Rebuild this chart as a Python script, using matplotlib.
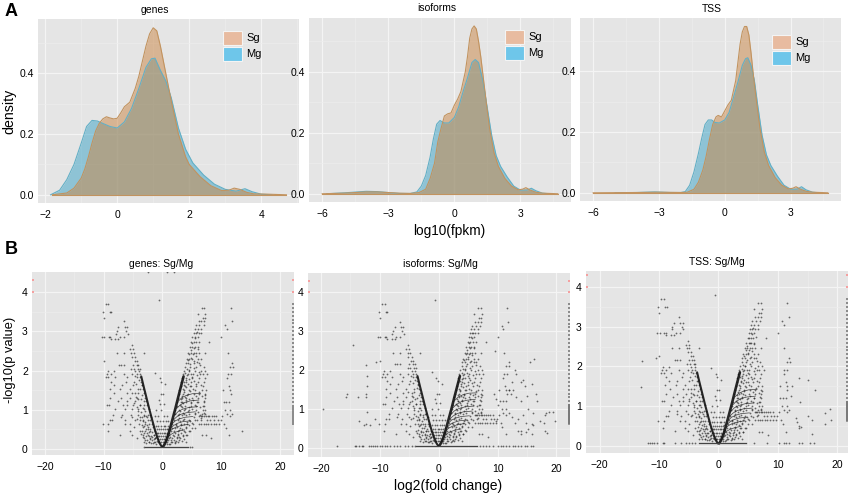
import matplotlib
matplotlib.use("Agg")
import matplotlib.pyplot as plt
from matplotlib.patches import Rectangle

plt.rcParams['font.family'] = ['Liberation Sans', 'DejaVu Sans']

W, H = 851, 496

# density curves
genes_sg_x = [-1.8,-1.4,-1.2,-1.0,-0.9,-0.8,-0.7,-0.6,-0.5,-0.4,-0.3,-0.2,-0.1,0,0.1,0.2,0.35,0.5,0.6,0.7,0.8,0.9,1.0,1.1,1.2,1.3,1.4,1.5,1.6,1.7,1.9,2.0,2.3,2.6,2.9,3.1,3.25,3.4,3.6,3.8,4.2,4.7]
genes_sg_y = [0,0.006,0.022,0.055,0.085,0.125,0.17,0.21,0.235,0.25,0.257,0.253,0.25,0.252,0.27,0.29,0.305,0.35,0.39,0.44,0.49,0.53,0.55,0.54,0.49,0.43,0.37,0.31,0.255,0.2,0.125,0.10,0.06,0.03,0.014,0.015,0.022,0.018,0.008,0.003,0.002,0]
genes_mg_x = [-1.85,-1.6,-1.4,-1.2,-1.0,-0.85,-0.7,-0.55,-0.4,-0.2,0,0.2,0.4,0.6,0.8,0.95,1.05,1.2,1.35,1.5,1.6,1.7,1.9,2.1,2.4,2.7,3.0,3.3,3.55,3.75,4.0,4.3]
genes_mg_y = [0,0.015,0.05,0.1,0.17,0.225,0.245,0.243,0.235,0.225,0.22,0.24,0.285,0.35,0.42,0.448,0.45,0.41,0.375,0.32,0.27,0.22,0.15,0.105,0.065,0.035,0.018,0.012,0.02,0.01,0.002,0]
iso_sg_x = [-6,-5,-4,-3.5,-3,-2.5,-2,-1.6,-1.3,-1.1,-0.9,-0.75,-0.6,-0.45,-0.3,-0.15,0,0.15,0.3,0.5,0.6,0.7,0.8,0.9,1.0,1.1,1.2,1.3,1.45,1.6,1.8,2.0,2.3,2.6,2.9,3.1,3.25,3.45,3.7,4.0,4.7]
iso_sg_y = [0,0.002,0.006,0.006,0.004,0.002,0.001,0.004,0.015,0.05,0.1,0.17,0.215,0.255,0.262,0.265,0.29,0.31,0.335,0.4,0.45,0.51,0.54,0.55,0.54,0.5,0.45,0.39,0.3,0.215,0.135,0.09,0.05,0.025,0.013,0.015,0.02,0.012,0.005,0.002,0]
iso_mg_x = [-5.8,-5,-4,-3.5,-3,-2.5,-2,-1.7,-1.5,-1.3,-1.1,-0.95,-0.8,-0.65,-0.45,-0.25,0,0.2,0.4,0.6,0.8,0.95,1.1,1.3,1.5,1.7,1.9,2.1,2.4,2.7,3.0,3.3,3.5,3.7,4.0,4.3]
iso_mg_y = [0,0.003,0.008,0.007,0.004,0.001,0.001,0.006,0.025,0.06,0.12,0.18,0.228,0.24,0.232,0.232,0.25,0.285,0.335,0.38,0.43,0.44,0.43,0.37,0.28,0.19,0.125,0.09,0.055,0.025,0.012,0.012,0.018,0.01,0.002,0]
tss_sg_x = [-6,-4,-3,-2,-1.7,-1.4,-1.2,-1.0,-0.85,-0.7,-0.55,-0.4,-0.3,-0.15,0,0.15,0.3,0.5,0.6,0.7,0.8,0.9,1.0,1.1,1.2,1.3,1.45,1.6,1.8,2.0,2.3,2.6,2.9,3.1,3.25,3.45,3.7,4.0,4.7]
tss_sg_y = [0,0.001,0.002,0.001,0.002,0.012,0.035,0.075,0.12,0.175,0.225,0.25,0.255,0.25,0.27,0.29,0.305,0.37,0.43,0.49,0.53,0.548,0.548,0.52,0.46,0.39,0.3,0.215,0.135,0.09,0.05,0.025,0.013,0.015,0.02,0.012,0.005,0.002,0]
tss_mg_x = [-5,-4,-3.2,-2.5,-2,-1.8,-1.6,-1.4,-1.2,-1.05,-0.9,-0.75,-0.6,-0.45,-0.25,0,0.2,0.4,0.6,0.8,0.95,1.05,1.2,1.35,1.5,1.7,1.9,2.1,2.4,2.7,3.0,3.3,3.5,3.7,4.0,4.3]
tss_mg_y = [0,0.001,0.003,0.001,0.001,0.004,0.025,0.07,0.13,0.18,0.225,0.24,0.24,0.232,0.23,0.24,0.265,0.315,0.365,0.42,0.442,0.445,0.42,0.37,0.29,0.19,0.125,0.09,0.055,0.025,0.012,0.012,0.02,0.01,0.002,0]

# volcano points common to the three panels, as (y level, x values)
left_rows = [
    (3.7,[-9.6,-9.2]),(3.5,[-10.1,-9.0,-8.7]),(3.35,[-10]),(3.25,[-6.6]),(3.1,[-7.5,-6.4,-6.0]),
    (3.0,[-7.8,-6.2]),(2.93,[-5.9,-7.9]),(2.85,[-10.3,-9.9,-9.1,-8.9,-7.2,-6.5]),(2.8,[-8.8,-8,-7.5]),
    (2.65,[-5.2]),(2.55,[-5.5,-5]),(2.45,[-7.8,-6.6,-5.3,-4.9,-3.2]),(2.35,[-5.2,-4.6]),(2.25,[-10,-4.7,-4.3]),
    (2.15,[-7.4,-7,-6.5,-5.0,-4.4,-4.1]),(2.05,[-5.3,-4.8,-4.2,-3.9]),(1.98,[-9.3,-8.3,-4.6,-4.0]),
    (1.9,[-9.5,-8.8,-6.6,-5.2,-4.4,-3.9]),(1.83,[-9.6,-9.2,-8.0,-6,-4.3,-3.8]),
    (1.72,[-8.8,-6.2,-4.8,-3.7]),(1.64,[-8.3,-6.9,-5.0,-3.5]),
    (1.53,[-9,-7.2,-5.6,-4.2,-3.3]),(1.42,[-8.2,-6,-4.6,-3.1]),
    (1.31,[-8.9,-7,-5.5,-4.3,-3]),(1.22,[-7.6,-6,-4.6,-3.2,-2.8]),
    (1.13,[-9.5,-9.1,-6.7,-6,-5,-3.8,-2.7]),(1.02,[-8,-6.4,-5.2,-4.2,-3.1,-2.3]),
    (0.88,[-8.4,-6.9,-5.4,-4.2,-3.2,-2.4,-2.1]),(0.81,[-7,-5.1,-3.5,-2.6,-1.9]),
    (0.74,[-8.9,-8.5,-6.3,-4.7,-3.3,-2.1]),(0.63,[-10.1,-9.2,-6.4,-5.6,-4,-3,-1.8]),
    (0.56,[-4.9,-3.3,-2.4,-1.6]),(0.45,[-9.3,-5.6,-3.9,-3,-2.1,-1.3]),
    (0.37,[-7.3,-5.1,-3.3,-2.4,-1.5]),(0.28,[-4.3,-3.1,-2.1,-1.3]),(0.18,[-3.2,-2.2,-1.4,-0.8]),
]
right_rows = [
    (3.6,[6.7,7.1,11.6]),(3.45,[6,7.3]),(3.35,[6.9,7.2]),(3.25,[6.2,6.6,7.1,11.8]),(3.15,[5.7,6.3,7,10.7]),(3.05,[5.5,6,6.6,11]),
    (2.95,[5.3,5.7,6.2,6.6]),(2.85,[5.1,5.5,6,10]),(2.72,[4.9,5.4,5.8,8]),(2.6,[4.7,5.1,5.5,6]),(2.45,[4.4,4.8,5.3,5.7,6.2,7.2,11.1]),
    (2.3,[4.2,4.6,5,6,6.6]),(2.2,[4,4.4,5.3,6.3,11.9]),(2.1,[3.9,4.7,5.7,7,11.5,12]),
    (2.0,[3.7,4.5,5.5,6.6,7.3]),(1.9,[3.5,4.3,5.2,6.4,6.9,7.6,11.1,11.6]),(1.8,[3.3,4.1,5.1,6.2,7.2,11]),
    (1.7,[3.2,4,4.9,6,7]),(1.6,[3.1,3.8,4.7,5.8,6.9,11.3]),(1.5,[2.9,3.7,4.5,5.5,6.7,7.4,10.3,11.5]),
    (1.4,[2.8,3.5,4.3,5.3,6.2,7.2,11.6]),(1.3,[2.6,3.4,4.1,5.1,6.1,7.2]),
    (1.2,[2.5,3.2,4,4.9,5.9,7.1,10.4,10.9,11.4]),(1.1,[2.4,3.1,3.8,4.8,5.8,7]),
    (1.0,[2.2,2.9,3.7,4.6,5.7,6.9,7.3,10.7,11.5]),(0.9,[2.1,2.8,3.6,4.6,5.6,6.7,7.2,11,11.9]),
    (0.84,[6.2,6.5,6.8,7.1,7.4,7.7,8,8.4,8.7,9.2,10.2,11.5]),(0.75,[1.9,2.6,3.5,4.5,5.5,6.5,7.6,8.1,8.8,9.4,9.9]),
    (0.65,[1.7,2.3,3.2,4.2,5.2,6.2,6.6,7,7.4,7.8,8.2,8.7,9.2,9.7,10.5]),(0.55,[1.6,2.2,3,4,5,5.6,10.8]),
    (0.45,[1.4,2,2.7,3.6,4.7,13.5]),(0.36,[1.2,1.8,2.6,3.5,4.2,6.8,7.4,11.4]),(0.28,[1.1,1.7,2.5,3,8.3]),(0.18,[0.8,1.4,2.2]),
]
# between the two arms of the V
middle_rows = [
    (3.8,[-0.6]),(1.95,[-1.2]),(1.8,[-0.4]),(1.72,[-0.2]),(1.65,[0.5]),(1.4,[-0.3,0.1]),(1.25,[-0.6]),(1.15,[-0.4,0.2]),(1.0,[-1.1,-0.2]),
    (0.85,[-1.2,-0.7,0.3,0.8]),(0.72,[-0.9,-0.4,0.1,0.6,1]),(0.6,[-1.1,-0.7,-0.3,0.2,0.5,0.9]),(0.5,[-0.9,-0.6,-0.2,0.1,0.4,0.7]),
    (0.42,[-1,-0.7,-0.4,-0.1,0.2,0.5,0.8]),(0.33,[-0.8,-0.5,-0.2,0.1,0.4,0.7]),(0.25,[-0.7,-0.4,-0.1,0.2,0.5]),(0.17,[-0.5,-0.2,0.1,0.4]),
]
# scattered points off the rows, estimated where the cloud is thickest
right_fill = [(3.65,1.72),(3.9,1.93),(4.15,2.04),(4.35,2.27),(4.6,2.41),(4.85,2.52),(5.1,2.71),(5.35,2.58),(5.6,2.82),(5.85,2.97),
    (3.3,1.36),(3.45,1.53),(3.75,1.64),(3.95,1.77),(4.2,1.88),(4.45,2.02),(4.75,2.17),(4.95,2.33),(5.2,2.42),(5.45,2.24),
    (3.15,1.27),(3.35,1.21),(3.6,1.46),(3.85,1.33),(4.05,1.58),(4.3,1.66),(4.55,1.79),(4.8,1.92),(5.05,1.84),(5.3,2.07),
    (2.95,1.13),(3.05,0.97),(3.25,1.08),(3.55,1.17),(3.8,1.03),(4.0,1.24),(4.25,1.37),(4.5,1.28),(4.7,1.48),(4.9,1.61),
    (5.15,1.53),(5.4,1.74),(5.65,1.67),(5.9,1.89),(6.15,1.97),(6.4,2.14),(5.7,2.38),(6.05,2.56),(5.95,2.22),(6.3,2.73),
    (2.7,0.88),(2.85,0.79),(3.0,0.72),(3.3,0.86),(3.55,0.93),(3.75,0.77),(4.05,0.87),(4.3,0.96),(4.55,1.08),(4.8,1.17),
    (5.0,1.03),(5.25,1.26),(5.5,1.13),(5.75,1.36),(6.0,1.21),(6.3,1.46),(6.5,1.62),(6.75,1.34),(6.45,1.08),(6.85,1.11),
    (2.35,0.62),(2.55,0.57),(2.75,0.48),(3.1,0.61),(3.4,0.52),(3.7,0.63),(3.95,0.57),(4.25,0.69),(4.45,0.62),(4.75,0.72),
    (5.05,0.67),(5.35,0.82),(5.6,0.93),(5.85,0.73),(6.1,0.95),(6.35,0.86),(6.6,0.78),(7.15,0.93),(7.0,1.23),(7.3,1.37),
    (1.95,0.33),(2.15,0.41),(2.4,0.32),(2.65,0.39),(2.9,0.3),(3.2,0.41),(3.45,0.33),(3.8,0.44),(4.1,0.36),(4.45,0.46),
    (1.45,0.22),(1.65,0.17),(1.9,0.24),(2.1,0.15),(2.35,0.21),(2.6,0.17),(2.85,0.22),(3.3,0.2),(3.65,0.25),(4.0,0.17),
    (0.95,0.24),(1.25,0.14),(1.05,0.12),(0.7,0.12),(0.55,0.23),(0.85,0.38),(1.15,0.41),(1.35,0.3),(0.65,0.31),(1.0,0.52)]
left_fill = [(-3.55,1.62),(-3.75,1.54),(-3.95,1.75),(-4.2,1.43),(-4.45,1.66),(-4.7,1.86),(-3.4,1.37),(-3.65,1.28),(-3.85,1.12),(-4.1,1.27),
    (-4.35,1.08),(-4.55,1.33),(-4.9,1.18),(-5.15,1.43),(-3.15,1.13),(-3.35,1.04),(-3.6,0.94),(-3.9,0.83),(-4.15,0.98),(-4.4,0.77),
    (-2.95,0.97),(-3.1,0.84),(-3.3,0.72),(-3.55,0.62),(-3.75,0.73),(-2.75,0.85),(-2.9,0.7),(-3.15,0.59),(-3.45,0.47),(-3.7,0.38),
    (-2.5,0.75),(-2.65,0.62),(-2.85,0.52),(-3.05,0.41),(-3.35,0.31),(-2.3,0.63),(-2.45,0.51),(-2.65,0.42),(-2.85,0.33),(-3.0,0.23),
    (-2.05,0.5),(-2.2,0.43),(-2.35,0.33),(-2.55,0.24),(-2.75,0.16),(-1.85,0.43),(-1.95,0.33),(-2.1,0.25),(-2.3,0.17),(-1.7,0.32),
    (-1.75,0.22),(-1.9,0.15),(-1.5,0.25),(-1.6,0.15),(-1.3,0.19),(-1.15,0.13),(-1.45,0.37),(-1.25,0.28),(-1.05,0.32),(-0.9,0.2)]
# the two dense arms and the arcs inside the right arm
left_arm_x = [-3.6,-3.2,-2.7,-2.2,-1.7,-1.2,-0.8,-0.4,-0.1]
left_arm_y = [1.85,1.6,1.3,1.0,0.72,0.45,0.27,0.13,0.06]
right_arm_x = [0.1,0.4,0.8,1.2,1.7,2.2,2.7,3.2,3.6]
right_arm_y = [0.06,0.13,0.27,0.47,0.75,1.03,1.33,1.62,1.85]
arc_x = [[1.0,1.4,2,2.8,3.8],[1.3,1.7,2.3,3.2,4.4],[1.5,2,2.6,3.5,4.8],[1.7,2.2,2.9,3.8,5.2],[1.9,2.5,3.2,4.2,5.6],[2.1,2.7,3.5,4.5,6],[2.4,3,3.8,4.8,6.2],[2.7,3.3,4.1,5.1,6.5]]
arc_y = [[0.32,0.37,0.42,0.46,0.49],[0.46,0.51,0.56,0.6,0.63],[0.55,0.61,0.66,0.7,0.72],[0.65,0.72,0.77,0.81,0.83],[0.75,0.83,0.89,0.93,0.95],[0.87,0.96,1.02,1.06,1.08],[1.03,1.12,1.19,1.23,1.25],[1.22,1.31,1.37,1.41,1.42]]

# points only seen in one panel
genes_top_x = [-2.5,0.8,2.0]
genes_top_y = [4.5,4.5,4.5]
iso_extra_x = [-19.7,-15.6,-15.7,-14.6,-13.7,-13.5,-12.7,-12.4,-12.4,-12.4,-12.3,-12.2,-12.2,-12.2,-11.7,-10.8,-10.7,9.6,11.9,13,12.5,13.2,14,14.4,14.7,15.5,16.2,15.8,16.5,16.7,9.4,9.8,10,12,12.2,12.6,13.2,14,15,15.2,16,14.3,13.5,12.5,9.7,13,14.8,15.8,16,17.2,17.8,18.1,18.3,18.8,19.4,19.8,18.1,18.4,15.1,14.8,14,14,15.9]
iso_extra_y = [1.0,1.4,1.3,2.65,1.3,0.7,0.6,0.62,1.3,1.4,2.13,1.6,1.85,0.92,0.6,0.75,2.2,2.5,1.5,2.0,1.7,1.9,1.7,1.75,1.6,2.2,2.3,1.65,1.4,1.2,1.4,1.25,1.1,1.5,1.4,1.5,1.3,1.2,1.35,1.0,0.9,0.85,0.75,0.8,0.7,0.65,0.65,0.62,0.6,0.7,0.65,0.85,0.9,0.93,0.92,0.7,0.45,0.38,0.5,0.4,0.45,0.35,0.35]
tss_extra_x = [-12.8,-13,-10.6,13.5,15,16.3,13.7,13,13.2,13.6,13.9,15,15.8,15.7,17.9,18.8,18,19,12.4,12.2]
tss_extra_y = [2.13,1.48,2.2,1.7,1.65,1.4,1.1,0.7,0.6,0.5,0.48,0.75,0.65,0.3,0.83,0.93,0.55,0.65,1.5,1.25]
iso_base_x = [-17.2,-14.3,-14,-13.5,-13,-12.8,-11.9,-11.5,-11.2,-10.9,-10.4,-10,-9.6,-9.2,-8.7,-8.2,-7.6,-7,-6.5,-5.8,-5.2,-4.6,-4,7,7.5,8,8.6,9.2,10,10.6,11,11.5,12,12.6,13,13.4,14,14.6,15,15.6,16.1]
tss_base_x = [-11.8,-11.5,-11.2,-10.8,-10.3,-9.4,-9.1,-7.4,-6.3,-5.5,-5,-4.5,-4,6,8.2,10.2,11,11.4,11.8,13.6,14,15.4,16]
genes_base_x = [-3.1,4.7,5.0]
edge_y = [0.65,0.7,0.75,0.8,0.85,0.9,0.95,1.0,1.05,1.1,1.2,1.3,1.4,1.5,1.6,1.7,1.8,1.9,2.0,2.1,2.2,2.3,2.4,2.5,2.6,2.7,2.8,2.9,3.0,3.1,3.2,3.3,3.4,3.5,3.6,3.7]
red_y = [4.0,4.3]

GREY = '#E5E5E5'
DOT = dict(s=1.6, color='#222222', lw=0, alpha=0.65)


def make_axes(left, right, top, bottom):
    ax = fig.add_axes([left / W, 1 - bottom / H, (right - left) / W, (bottom - top) / H], facecolor=GREY)
    for s in ax.spines.values():
        s.set_visible(False)
    ax.set_axisbelow(True)
    ax.grid(True, which='major', color='#F4F4F4', lw=0.9)
    ax.grid(True, which='minor', color='#EDEDED', lw=0.5)
    ax.tick_params(which='both', length=0, labelsize=7.5)
    ax.tick_params(axis='x', pad=5)
    ax.tick_params(axis='y', pad=3)
    return ax


def panel_title(box, title, cx, cy):
    fig.text(cx / W, 1 - cy / H, title, fontsize=7.5, ha='center', va='center')


def density_panel(box, xlim, ylim, xticks, minor, title, title_xy, sg, mg, legend_xy):
    ax = make_axes(*box)
    ax.set_xlim(*xlim)
    ax.set_ylim(*ylim)
    ax.set_xticks(xticks)
    ax.set_xticks(minor, minor=True)
    ax.set_yticks([0, 0.2, 0.4])
    ax.set_yticks([0.1, 0.3, 0.5], minor=True)
    ax.set_yticklabels(['0.0', '0.2', '0.4'])
    ax.fill_between(mg[0], mg[1], color='#39A3C7', alpha=0.5, lw=0)
    ax.fill_between(sg[0], sg[1], color='#CB8543', alpha=0.5, lw=0)
    ax.plot(mg[0], mg[1], color='#62AFC6', lw=0.8)
    ax.plot(sg[0], sg[1], color='#C2935F', lw=0.8)
    ax.plot([sg[0][0], sg[0][-1]], [0, 0], color='#C2935F', lw=0.8)
    panel_title(box, title, *title_xy)
    # legend keys placed by hand, as in the figure
    for (dy, col, lab) in [(0, '#E8BBA0', 'Sg'), (16, '#6EC6EA', 'Mg')]:
        top = legend_xy[1] + dy
        fig.patches.append(Rectangle((legend_xy[0] / W, 1 - (top + 14) / H), 19 / W, 14 / H, transform=fig.transFigure,
                                     facecolor=col, edgecolor='#F4F4F4', lw=0.8))
        fig.text((legend_xy[0] + 23) / W, 1 - (top + 7) / H, lab, fontsize=8, va='center')
    return ax


def volcano_panel(box, xlim, ylim, title, title_xy, extra_x, extra_y, base_x, base_end, edge_bar):
    ax = make_axes(*box)
    ax.set_xlim(*xlim)
    ax.set_ylim(*ylim)
    ax.set_xticks([-20, -10, 0, 10, 20])
    ax.set_xticks([-15, -5, 5, 15], minor=True)
    ax.set_yticks([0, 1, 2, 3, 4])
    ax.set_yticks([0.5, 1.5, 2.5, 3.5], minor=True)
    panel_title(box, title, *title_xy)
    xs, ys = [], []
    for rows in (left_rows, right_rows, middle_rows):
        for y, row in rows:
            xs += row
            ys += [y] * len(row)
    for x, y in right_fill + left_fill:
        xs.append(x)
        ys.append(y)
    ax.scatter(xs, ys, **DOT)
    ax.scatter(extra_x, extra_y, **DOT)
    ax.scatter(base_x, [0.06] * len(base_x), **DOT)
    ax.plot(left_arm_x, left_arm_y, color='#111111', lw=1.5, alpha=0.9, solid_capstyle='round')
    ax.plot(right_arm_x, right_arm_y, color='#111111', lw=1.9, alpha=0.9, solid_capstyle='round')
    for a_x, a_y in zip(arc_x, arc_y):
        ax.plot(a_x, a_y, color='#222222', lw=0.5, alpha=0.85)
    ax.plot(base_end, [0.06, 0.06], color='#444444', lw=0.9)
    ax.scatter([xlim[1] - 0.15] * len(edge_y), edge_y, s=0.8, marker='s', color='#666666', lw=0, alpha=0.7)
    ax.scatter([xlim[0] + 0.15] * len(edge_y), edge_y, s=0.5, marker='s', color='#BBBBBB', lw=0, alpha=0.7)
    ax.scatter([xlim[1] - 0.15] * 2, red_y, s=1, marker='s', color='#F4A0A0', lw=0)
    ax.scatter([xlim[0] + 0.15] * 2, red_y, s=1, marker='s', color='#F4A0A0', lw=0)
    if edge_bar:
        ax.plot([xlim[1] - 0.15] * 2, [0.62, 1.1], color='#777777', lw=1.2)
    return ax


fig = plt.figure(figsize=(W / 100, H / 100), dpi=100)

density_panel((38, 299, 19, 203), (-2.2, 5.05), (-0.027, 0.579), [-2, 0, 2, 4], [-1, 1, 3, 5], 'genes', (155, 10),
              (genes_sg_x, genes_sg_y), (genes_mg_x, genes_mg_y), (223, 31))
density_panel((309, 571, 18, 202), (-6.6, 5.3), (-0.027, 0.576), [-6, -3, 0, 3], [-4.5, -1.5, 1.5, 4.5], 'isoforms', (437, 8),
              (iso_sg_x, iso_sg_y), (iso_mg_x, iso_mg_y), (505, 30))
density_panel((580, 841, 18, 201), (-6.6, 5.3), (-0.027, 0.576), [-6, -3, 0, 3], [-4.5, -1.5, 1.5, 4.5], 'TSS', (712, 9),
              (tss_sg_x, tss_sg_y), (tss_mg_x, tss_mg_y), (772, 35))

volcano_panel((32, 294, 272, 455), (-22.2, 22.4), (-0.15, 4.51), 'genes: Sg/Mg', (161, 264), genes_top_x, genes_top_y,
              genes_base_x, [-2.9, 4.4], False)
volcano_panel((308, 570, 273, 457), (-22.2, 22.3), (-0.23, 4.5), 'isoforms: Sg/Mg', (440, 264), iso_extra_x, iso_extra_y,
              iso_base_x, [-3.8, 6.5], True)
volcano_panel((586, 848, 271, 453), (-22.3, 21.8), (-0.18, 4.4), 'TSS: Sg/Mg', (717, 262), tss_extra_x, tss_extra_y,
              tss_base_x, [-3.2, 4.6], True)

fig.text(5 / W, 1 - 11 / H, 'A', fontsize=13, fontweight='bold', va='center')
fig.text(5 / W, 1 - 249 / H, 'B', fontsize=13, fontweight='bold', va='center')
fig.text(9 / W, 1 - 111 / H, 'density', fontsize=10.2, rotation=90, va='center', ha='center')
fig.text(10 / W, 1 - 360 / H, '-log10(p value)', fontsize=9.3, rotation=90, va='center', ha='center')
fig.text(449 / W, 1 - 231 / H, 'log10(fpkm)', fontsize=9.8, va='center', ha='center')
fig.text(448 / W, 1 - 486 / H, 'log2(fold change)', fontsize=10, va='center', ha='center')

fig.savefig('out.png', dpi=100)
